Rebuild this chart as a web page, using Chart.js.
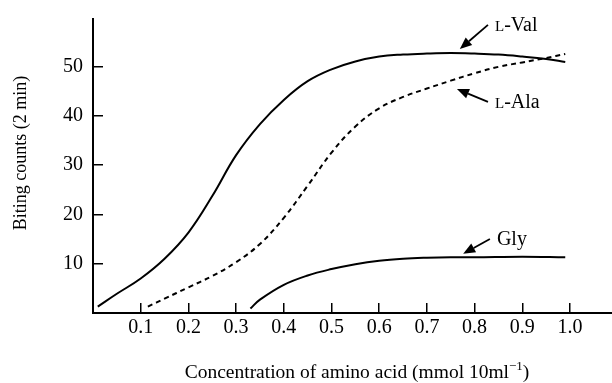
<!DOCTYPE html>
<html>
<head>
<meta charset="utf-8">
<script src="https://cdn.jsdelivr.net/npm/chart.js@4.4.0/dist/chart.umd.min.js"></script>
<style>
  body { margin: 0; background: #fff; }
  canvas { display: block; }
</style>
</head>
<body>
<canvas id="chart" width="612" height="383"></canvas>
<script>
// tick values
const xTicks = [0.1, 0.2, 0.3, 0.4, 0.5, 0.6, 0.7, 0.8, 0.9, 1.0];
const yTicks = [10, 20, 30, 40, 50];

// L-Val (solid)
const valX = [0.01, 0.05, 0.1, 0.15, 0.2, 0.25, 0.3, 0.35, 0.4, 0.45, 0.5, 0.55, 0.6, 0.65, 0.7, 0.75, 0.8, 0.85, 0.9, 0.95, 0.99];
const valY = [1.3, 3.9, 7.0, 11.0, 16.3, 23.7, 32.0, 38.3, 43.2, 47.0, 49.4, 51.0, 52.0, 52.4, 52.6, 52.7, 52.6, 52.4, 52.0, 51.5, 50.9];

// L-Ala (dashed)
const alaX = [0.115, 0.15, 0.2, 0.25, 0.3, 0.35, 0.4, 0.45, 0.5, 0.55, 0.6, 0.65, 0.7, 0.75, 0.8, 0.85, 0.9, 0.95, 0.99];
const alaY = [1.3, 2.9, 5.2, 7.5, 10.3, 14.0, 19.3, 25.8, 32.5, 37.8, 41.5, 43.8, 45.5, 47.1, 48.6, 49.9, 50.8, 51.7, 52.5];

// Gly (solid)
const glyX = [0.33, 0.35, 0.4, 0.45, 0.5, 0.55, 0.6, 0.65, 0.7, 0.75, 0.8, 0.9, 0.99];
const glyY = [0.9, 2.7, 5.7, 7.6, 8.9, 9.9, 10.6, 11.0, 11.2, 11.3, 11.3, 11.4, 11.3];

// arrow labels (small-cap prefix + rest), arrow tip and tail in data units
const noteCap = ['L', 'L', ''];
const noteText = ['-Val', '-Ala', 'Gly'];
const noteTip = [[0.769, 53.5], [0.763, 45.4], [0.776, 12.0]];
const noteTail = [[0.828, 58.4], [0.828, 42.8], [0.832, 15.0]];

const serif = '"Liberation Serif", "DejaVu Serif", serif';

function pts(xs, ys) {
  return xs.map((v, i) => ({ x: v, y: ys[i] }));
}

const notes = {
  id: 'notes',
  afterDraw(chart) {
    const ctx = chart.ctx;
    const xs = chart.scales.x, ys = chart.scales.y;
    ctx.save();
    ctx.fillStyle = '#000';
    ctx.strokeStyle = '#000';
    ctx.lineWidth = 1.8;
    for (let i = 0; i < noteText.length; i++) {
      const x1 = xs.getPixelForValue(noteTail[i][0]), y1 = ys.getPixelForValue(noteTail[i][1]);
      const x2 = xs.getPixelForValue(noteTip[i][0]), y2 = ys.getPixelForValue(noteTip[i][1]);
      const a = Math.atan2(y2 - y1, x2 - x1);
      const hl = 12, hw = 5;
      ctx.beginPath();
      ctx.moveTo(x1, y1);
      ctx.lineTo(x2 - Math.cos(a) * hl, y2 - Math.sin(a) * hl);
      ctx.stroke();
      ctx.beginPath();
      ctx.moveTo(x2, y2);
      ctx.lineTo(x2 - Math.cos(a) * hl - Math.sin(a) * hw, y2 - Math.sin(a) * hl + Math.cos(a) * hw);
      ctx.lineTo(x2 - Math.cos(a) * hl + Math.sin(a) * hw, y2 - Math.sin(a) * hl - Math.cos(a) * hw);
      ctx.closePath();
      ctx.fill();

      // label
      let lx = x1 + 7;
      const ly = y1 + 6;
      ctx.textAlign = 'left';
      ctx.textBaseline = 'alphabetic';
      if (noteCap[i]) {
        ctx.font = '15px ' + serif;
        ctx.fillText(noteCap[i], lx, ly);
        lx += ctx.measureText(noteCap[i]).width;
      }
      ctx.font = '20px ' + serif;
      ctx.fillText(noteText[i], lx, ly);
    }

    // y axis title
    ctx.save();
    ctx.translate(21, 153);
    ctx.rotate(-Math.PI / 2);
    ctx.textAlign = 'center';
    ctx.textBaseline = 'middle';
    ctx.font = '18px ' + serif;
    ctx.fillText('Biting counts (2 min)', 0, 0);
    ctx.restore();

    // x axis title with superscript
    const main = 'Concentration of amino acid (mmol 10ml', sup = '\u22121', end = ')';
    ctx.textAlign = 'left';
    ctx.font = '19.5px ' + serif;
    const w1 = ctx.measureText(main).width, w3 = ctx.measureText(end).width;
    ctx.font = '13px ' + serif;
    const w2 = ctx.measureText(sup).width;
    let tx = 357 - (w1 + w2 + w3) / 2;
    const base = 378;
    ctx.font = '19.5px ' + serif;
    ctx.fillText(main, tx, base);
    tx += w1;
    ctx.font = '13px ' + serif;
    ctx.fillText(sup, tx, base - 8);
    tx += w2;
    ctx.font = '19.5px ' + serif;
    ctx.fillText(end, tx, base);
    ctx.restore();
  }
};

new Chart(document.getElementById('chart'), {
  type: 'line',
  data: {
    datasets: [
      { label: 'L-Val', data: pts(valX, valY), borderColor: '#000', borderWidth: 2, pointRadius: 0, tension: 0.4, fill: false },
      { label: 'L-Ala', data: pts(alaX, alaY), borderColor: '#000', borderWidth: 2, borderDash: [5, 4], pointRadius: 0, tension: 0.4, fill: false },
      { label: 'Gly', data: pts(glyX, glyY), borderColor: '#000', borderWidth: 2, pointRadius: 0, tension: 0.4, fill: false }
    ]
  },
  options: {
    responsive: false,
    animation: false,
    devicePixelRatio: 1,
    layout: { padding: { top: 19, right: 0, left: 0, bottom: 0 } },
    plugins: { legend: { display: false }, tooltip: { enabled: false } },
    scales: {
      x: {
        type: 'linear',
        min: 0,
        max: 1.088,
        afterBuildTicks: s => { s.ticks = xTicks.map(v => ({ value: v })); },
        afterFit: s => { s.height = 70; },
        border: { display: true, color: '#000', width: 2 },
        grid: { drawOnChartArea: false, drawTicks: true, tickLength: -10, color: '#000', lineWidth: 1.5 },
        ticks: { color: '#000', font: { family: serif, size: 20 }, padding: 13, maxRotation: 0, callback: v => v.toFixed(1) }
      },
      y: {
        min: 0,
        max: 59.6,
        afterBuildTicks: s => { s.ticks = yTicks.map(v => ({ value: v })); },
        afterFit: s => { s.width = 93; s.paddingTop = 0; s.paddingBottom = 0; },
        border: { display: true, color: '#000', width: 2 },
        grid: { drawOnChartArea: false, drawTicks: true, tickLength: -10, color: '#000', lineWidth: 1.5 },
        ticks: { color: '#000', font: { family: serif, size: 20 }, padding: 20, callback: v => String(v) }
      }
    }
  },
  plugins: [notes]
});
</script>
</body>
</html>
